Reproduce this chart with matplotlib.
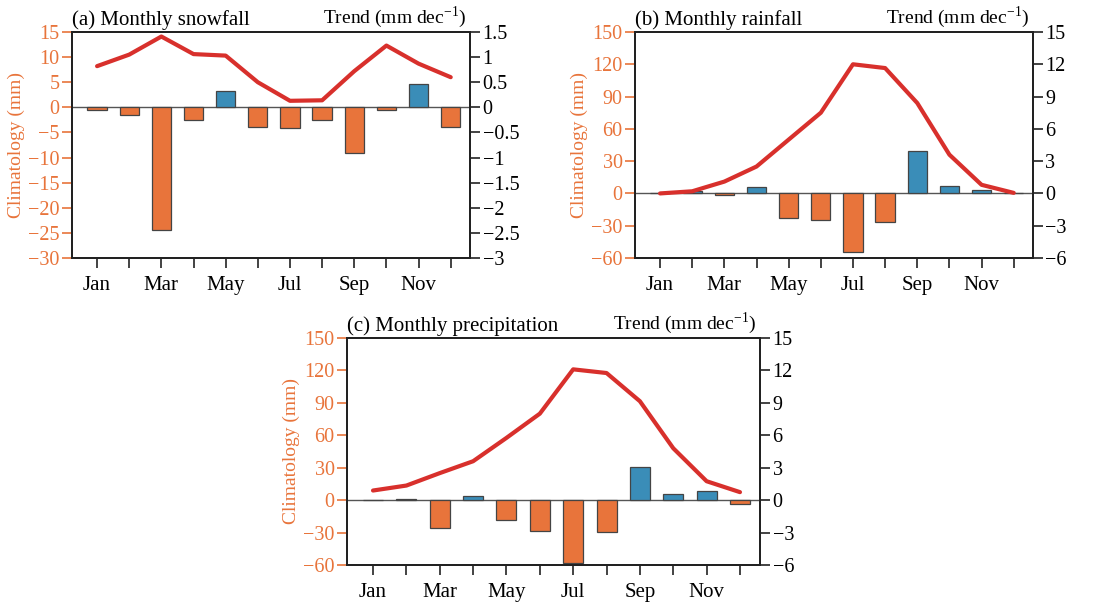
import matplotlib
matplotlib.use("Agg")
import matplotlib.pyplot as plt
from matplotlib.ticker import FuncFormatter
import numpy as np

plt.rcParams['font.family'] = ['Liberation Serif', 'DejaVu Serif']
plt.rcParams['mathtext.fontset'] = 'custom'
plt.rcParams['mathtext.rm'] = 'Liberation Serif'

months = ["Jan", "Feb", "Mar", "Apr", "May", "Jun", "Jul", "Aug", "Sep", "Oct", "Nov", "Dec"]
month_labels = ["Jan", "", "Mar", "", "May", "", "Jul", "", "Sep", "", "Nov", ""]

# (a) snowfall
snow_clim = [8.2, 10.5, 14.1, 10.6, 10.3, 5.0, 1.3, 1.4, 7.2, 12.3, 8.7, 6.0]
snow_trend = [-0.06, -0.15, -2.45, -0.25, 0.33, -0.40, -0.41, -0.26, -0.91, -0.06, 0.47, -0.40]

# (b) rainfall
rain_clim = [0.0, 2.0, 11.0, 25.0, 50.0, 75.0, 120.0, 116.5, 84.0, 36.0, 8.0, 0.5]
rain_trend = [0.05, 0.2, -0.12, 0.62, -2.24, -2.48, -5.43, -2.70, 3.98, 0.68, 0.31, 0.0]

# (c) precipitation
prec_clim = [8.9, 13.5, 25.0, 36.0, 57.6, 80.0, 121.0, 117.6, 91.5, 48.0, 17.5, 7.4]
prec_trend = [0.0, 0.06, -2.62, 0.40, -1.85, -2.86, -5.79, -2.93, 3.08, 0.59, 0.83, -0.40]

ORANGE = "#E8743B"
BLUE = "#3A8DB8"
RED = "#D8302C"
EDGE = "#444444"
FS = 14.5

def fmt(v, pos):
    s = "%g" % v
    return s.replace("-", "\u2212")

fig = plt.figure(figsize=(11, 6.03), dpi=100)
W, H = 1100.0, 603.0

def make_panel(rect_px, clim, trend, title, lylim, lyticks, rylim, ryticks):
    l, r, t, b = rect_px
    ax = fig.add_axes([l / W, 1 - b / H, (r - l) / W, (b - t) / H])
    ax2 = ax.twinx()
    x = np.arange(1, 13)
    colors = [BLUE if v > 0 else ORANGE for v in trend]
    ax2.bar(x, trend, width=0.6, color=colors, edgecolor=EDGE, linewidth=0.9, zorder=2)
    ax2.axhline(0, color="#555555", lw=1.0, zorder=1)
    ax.plot(x, clim, color=RED, lw=3.0, solid_capstyle='round', zorder=5)
    ax.set_zorder(ax2.get_zorder() + 1)
    ax.patch.set_visible(False)
    ax.set_xlim(0.22, 12.6)
    ax.set_ylim(*lylim)
    ax.set_yticks(lyticks)
    ax2.set_ylim(*rylim)
    ax2.set_yticks(ryticks)
    ax.yaxis.set_major_formatter(FuncFormatter(fmt))
    ax2.yaxis.set_major_formatter(FuncFormatter(fmt))
    ax.set_xticks(x)
    ax.set_xticklabels(month_labels)
    ax.tick_params(axis='y', colors=ORANGE, labelsize=FS, direction='out', length=7, width=1.2, pad=2)
    ax.tick_params(axis='x', labelsize=FS + 0.5, direction='out', length=7, width=1.2, pad=6, color='#222222')
    ax2.tick_params(axis='y', labelsize=FS, direction='out', length=7, width=1.2, pad=2, color='#222222')
    for a in (ax, ax2):
        for sp in a.spines.values():
            sp.set_linewidth(1.4)
            sp.set_color('#222222')
    ax.set_ylabel("Climatology (mm)", color=ORANGE, fontsize=14, labelpad=2)
    ax.text(0.0, 1.01, title, transform=ax.transAxes, ha='left', va='bottom', fontsize=15)
    ax.text(0.99, 1.01, r"Trend (mm dec$^{\mathregular{-1}}$)", transform=ax.transAxes,
            ha='right', va='bottom', fontsize=14)
    return ax, ax2

make_panel((72, 470, 32, 258), snow_clim, snow_trend, "(a) Monthly snowfall",
           (-30, 15), np.arange(-30, 16, 5), (-3, 1.5), np.arange(-3, 1.51, 0.5))
make_panel((635, 1033, 32, 258), rain_clim, rain_trend, "(b) Monthly rainfall",
           (-60, 150), np.arange(-60, 151, 30), (-6, 15), np.arange(-6, 16, 3))
make_panel((347, 760, 338, 565), prec_clim, prec_trend, "(c) Monthly precipitation",
           (-60, 150), np.arange(-60, 151, 30), (-6, 15), np.arange(-6, 16, 3))

fig.savefig("out.png", dpi=100)
